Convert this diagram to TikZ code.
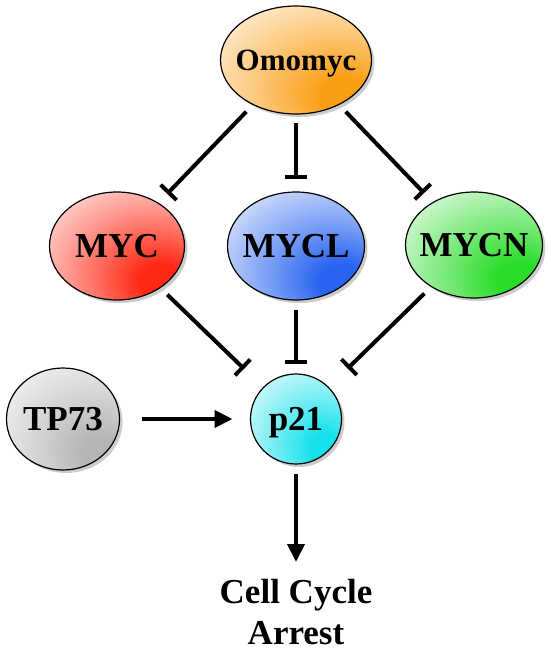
\documentclass[tikz,border=0pt]{standalone}
\usepackage{fontspec}
\setmainfont{Liberation Serif}
\usetikzlibrary{arrows.meta,shadows,shapes.geometric}
\makeatletter
\pgfdeclareradialshading[tikz@ball]{glow}{\pgfqpoint{18bp}{-18bp}}{%
 color(0bp)=(tikz@ball); color(8bp)=(tikz@ball); color(25bp)=(tikz@ball!60!white);
 color(42bp)=(tikz@ball!22!white); color(60bp)=(tikz@ball!6!white); color(100bp)=(white)}
\makeatother
\definecolor{omo}{RGB}{250,158,20}
\definecolor{mycred}{RGB}{255,40,20}
\definecolor{myclblue}{RGB}{40,100,240}
\definecolor{mycngreen}{RGB}{40,220,40}
\definecolor{tpgray}{RGB}{182,182,182}
\definecolor{pcyan}{RGB}{20,225,235}
\newcommand\genelbl[1]{\makebox[0pt]{#1}}
\tikzset{
  gene/.style={ellipse, draw=black, line width=1.2pt, ball color=#1, shading=glow,
    text=black, inner sep=0pt, outer sep=0pt, text depth=0pt,
    font=\bfseries\fontsize{35}{35}\selectfont,
    drop shadow={shadow xshift=3pt, shadow yshift=-3pt, opacity=0.4}},
  inh/.style={line width=4pt, -{Bar[width=22pt]}},
  act/.style={line width=4pt, -{Triangle[length=18pt,width=17pt]}}
}
\begin{document}
\begin{tikzpicture}[x=1pt,y=-1pt]
\useasboundingbox (0,0) rectangle (550,654);
\node[gene=omo, minimum width=151pt, minimum height=108pt,
      font=\bfseries\fontsize{31}{31}\selectfont] (om) at (296,60) {\genelbl{Omomyc}};
\node[gene=mycred, minimum width=135pt, minimum height=108pt] (myc) at (117,246) {\genelbl{MYC}};
\node[gene=myclblue, minimum width=137pt, minimum height=108pt] (mycl) at (296,246) {\genelbl{MYCL}};
\node[gene=mycngreen, minimum width=137pt, minimum height=106pt] (mycn) at (474,245) {\genelbl{MYCN}};
\node[gene=tpgray, minimum width=113pt, minimum height=102pt] (tp) at (63,419) {\genelbl{TP73}};
\node[gene=pcyan, minimum width=91pt, minimum height=90pt] (p21) at (296,419) {\genelbl{p21}};
\node[font=\bfseries\fontsize{35}{41}\selectfont, align=center, anchor=north, inner sep=0pt]
      (cca) at (296,579) {Cell Cycle\\Arrest};
\draw[inh, shorten <=10pt, shorten >=13pt] (om) -- (myc);
\draw[inh, shorten <=9pt, shorten >=13pt] (om) -- (mycl);
\draw[inh, shorten <=10pt, shorten >=13pt] (om) -- (mycn);
\draw[inh, shorten <=10pt, shorten >=27pt] (myc) -- (p21);
\draw[inh, shorten <=10pt, shorten >=10pt] (mycl) -- (p21);
\draw[inh, shorten <=10pt, shorten >=27pt] (mycn) -- (p21);
\draw[act, shorten <=22pt, shorten >=18pt] (tp) -- (p21);
\draw[act, shorten <=10pt, shorten >=17pt] (p21) -- (cca.north);
\end{tikzpicture}
\end{document}
